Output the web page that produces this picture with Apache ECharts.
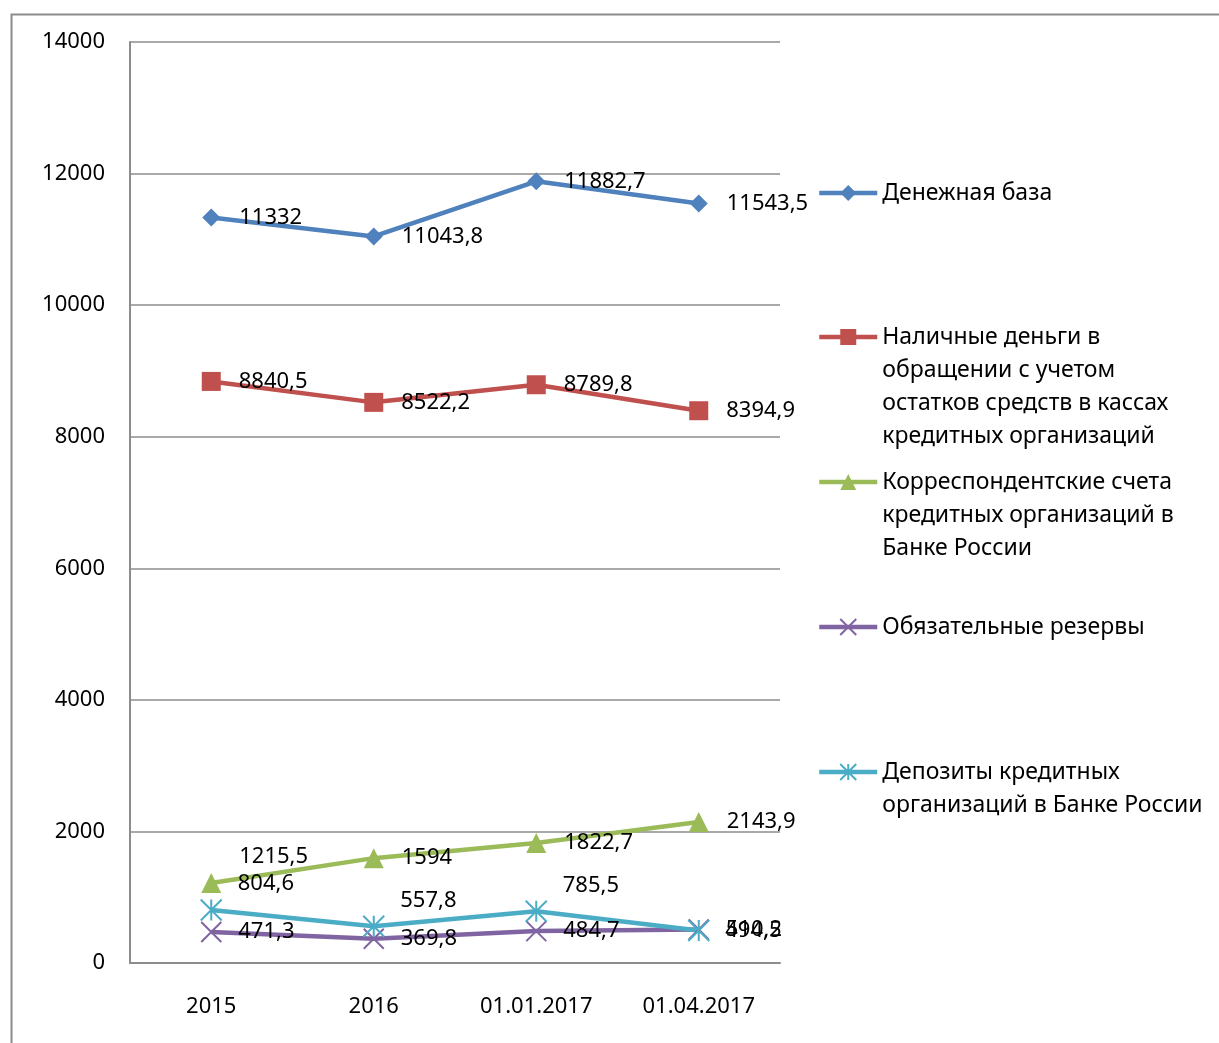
<!DOCTYPE html>
<html><head><meta charset="utf-8">
<script src="https://cdn.jsdelivr.net/npm/echarts@6/dist/echarts.min.js"></script>
<style>html,body{margin:0;padding:0;background:#fff}#c{width:1219px;height:1043px}</style>
</head><body><div id="c"></div>
<script>
const categories = ['2015', '2016', '01.01.2017', '01.04.2017'];
const seriesNames = [
  'Денежная база',
  'Наличные деньги в\nобращении с учетом\nостатков средств в кассах\nкредитных организаций',
  'Корреспондентские счета\nкредитных организаций в\nБанке России',
  'Обязательные резервы',
  'Депозиты кредитных\nорганизаций в Банке России'
];
const monetaryBase = [11332, 11043.8, 11882.7, 11543.5];
const cash = [8840.5, 8522.2, 8789.8, 8394.9];
const corrAccounts = [1215.5, 1594, 1822.7, 2143.9];
const reserves = [471.3, 369.8, 484.7, 510.2];
const deposits = [804.6, 557.8, 785.5, 494.5];
const yTicks = [0, 2000, 4000, 6000, 8000, 10000, 12000, 14000];

const colors = ['#4F81BD', '#C0504D', '#9BBB59', '#8064A2', '#4BACC6'];
const FONT = 'Noto Sans';
const fmt = v => String(v).replace('.', ',');

function mkSeries(i, data, symbol, size, strokeSymbol, labelOffsets, dist) {
  return {
    name: seriesNames[i], type: 'line', data: data.map((v, k) => {
      const o = { value: v };
      if (labelOffsets && labelOffsets[k]) o.label = { offset: labelOffsets[k] };
      return o;
    }),
    symbol: symbol, symbolSize: size,
    lineStyle: { color: colors[i], width: 4.5 },
    itemStyle: strokeSymbol ? { color: 'rgba(0,0,0,0)', borderColor: colors[i], borderWidth: 2 } : { color: colors[i] },
    label: { show: true, position: 'right', distance: dist, color: '#000', fontFamily: FONT, fontSize: 22,
      formatter: p => fmt(p.value) },
    animation: false
  };
}

const LH = 33;
const legendIconY = [193, 337, 482, 627, 772];
const legends = seriesNames.map((n, i) => {
  const nLines = n.split('\n').length;
  const total = (2 * nLines - 1) * LH;
  return {
    data: [n], left: 817, top: legendIconY[i] - total / 2, orient: 'vertical', padding: 0,
    itemWidth: 58, itemHeight: 20, selectedMode: false,
    lineStyle: { width: 4.5 },
    formatter: name => ' \n'.repeat(nLines - 1) + name,
    textStyle: { fontFamily: FONT, fontSize: 23, color: '#000', lineHeight: LH }
  };
});

const chart = echarts.init(document.getElementById('c'));
chart.setOption({
  backgroundColor: '#fff',
  animation: false,
  graphic: [{ type: 'rect', left: 9, top: 12, shape: { width: 1260, height: 1100 },
    style: { fill: 'none', stroke: '#8c8c8c', lineWidth: 2 }, silent: true }],
  legend: legends,
  grid: { left: 130, top: 42, right: 439, bottom: 80 },
  xAxis: { type: 'category', data: categories, boundaryGap: true,
    axisLine: { lineStyle: { color: '#8c8c8c', width: 2 } }, axisTick: { show: false },
    axisLabel: { fontFamily: FONT, fontSize: 22, color: '#000', margin: 33 } },
  yAxis: { type: 'value', min: 0, max: 14000, interval: 2000,
    axisLine: { show: true, lineStyle: { color: '#8c8c8c', width: 2 } }, axisTick: { show: false },
    splitLine: { lineStyle: { color: '#8c8c8c', width: 1.5 } },
    axisLabel: { fontFamily: FONT, fontSize: 22, color: '#000', margin: 25,
      formatter: v => yTicks.includes(v) ? String(v) : '' } },
  series: [
    mkSeries(0, monetaryBase, 'diamond', 18, false, null, 19),
    mkSeries(1, cash, 'rect', 19, false, null, 18),
    mkSeries(2, corrAccounts, 'triangle', 20, false, [[0, -26]], 18),
    mkSeries(3, reserves, 'path://M0,0L10,10M10,0L0,10', 20, true, null, 16),
    mkSeries(4, deposits, 'path://M0,0L10,10M10,0L0,10M5,0L5,10', 21, true, [[0, -26], [0, -26], [0, -26]], 15)
  ]
});
</script></body></html>
